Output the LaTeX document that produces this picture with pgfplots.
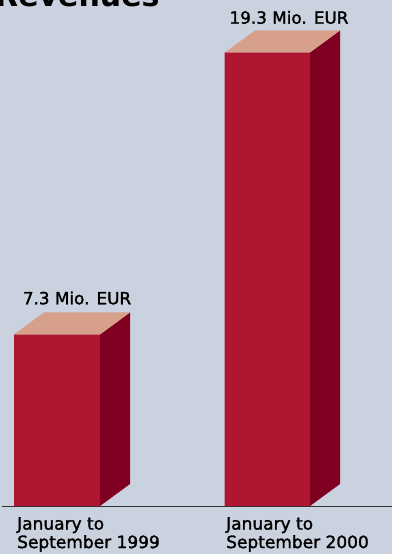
\documentclass[border=0pt]{standalone}
\usepackage{pgfplots}
\pgfplotsset{compat=1.18}
\usepackage{fontspec}
\setmainfont{DejaVu Sans}
\newfontfamily\labfont[FakeBold=1.6]{DejaVu Sans}
\definecolor{bgc}{RGB}{203,210,223}
\definecolor{frontc}{RGB}{176,22,50}
\definecolor{topc}{RGB}{214,160,138}
\definecolor{sidec}{RGB}{128,0,34}
\begin{document}
\begin{tikzpicture}
\fill[bgc] (0,0) rectangle (392pt,554pt);
\begin{axis}[
  at={(0,0)}, anchor=south west,
  width=392pt, height=554pt, scale only axis,
  xmin=0, xmax=392, ymin=-2.043, ymax=21.532,
  axis line style={draw=none}, tick style={draw=none},
  ytick=\empty,
  xtick={17,226},
  xticklabels={{January to\\September 1999},{January to\\September 2000}},
  xticklabel style={anchor=north west, align=left, inner sep=0pt, yshift=37pt,
    font=\labfont\fontsize{17}{18.5}\selectfont},
  clip=false,
]
% front faces
\addplot[ybar, bar width=86, fill=frontc, draw=none, bar shift=0] coordinates {(57,7.3) (267.5,19.3)};
% side faces
\addplot[fill=sidec, draw=none] coordinates {(100,0) (130,0.936) (130,8.236) (100,7.3)} --cycle;
\addplot[fill=sidec, draw=none] coordinates {(310,0) (340,0.936) (340,20.236) (310,19.3)} --cycle;
% top faces
\addplot[fill=topc, draw=none] coordinates {(14,7.3) (100,7.3) (130,8.236) (44,8.236)} --cycle;
\addplot[fill=topc, draw=none] coordinates {(225,19.3) (310,19.3) (340,20.236) (255,20.236)} --cycle;
% baseline
\addplot[black!80, line width=0.9pt] coordinates {(2,0) (392,0)};
\node[font=\labfont\fontsize{16.8}{18}\selectfont, inner sep=0pt] at (axis cs:77,8.85) {7.3 Mio. EUR};
\node[font=\labfont\fontsize{16.8}{18}\selectfont, inner sep=0pt] at (axis cs:289,20.79) {19.3 Mio. EUR};
\node[font=\bfseries\fontsize{30}{32}\selectfont, inner sep=0pt, anchor=base west] at (axis cs:-5,21.26) {Revenues};
\end{axis}
\pgfresetboundingbox
\useasboundingbox (0,0) rectangle (392pt,554pt);
\end{tikzpicture}
\end{document}
